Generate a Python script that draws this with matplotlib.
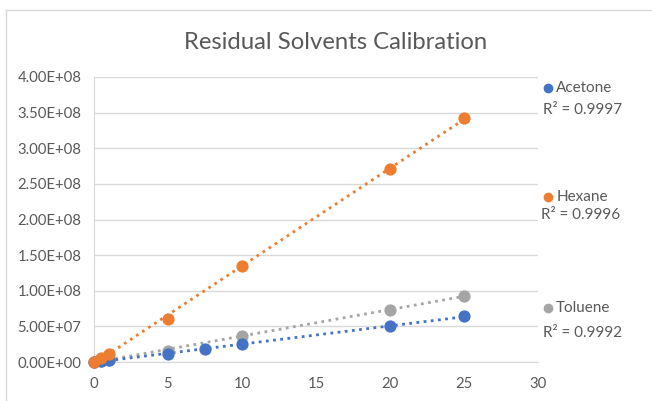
import numpy as np
import matplotlib
matplotlib.use("Agg")
import matplotlib.pyplot as plt
from matplotlib.lines import Line2D

# Data
acetone_x = [0, 0.5, 1, 5, 7.5, 10, 20, 25]
acetone_y = [0, 1.5e6, 3.0e6, 1.1e7, 1.8e7, 2.5e7, 5.1e7, 6.4e7]
hexane_x = [0, 0.5, 1, 5, 10, 20, 25]
hexane_y = [0, 6.0e6, 1.2e7, 6.1e7, 1.35e8, 2.71e8, 3.42e8]
toluene_x = [0, 0.5, 1, 5, 10, 20, 25]
toluene_y = [0, 1.8e6, 3.5e6, 1.6e7, 3.7e7, 7.3e7, 9.3e7]
series = [("Acetone", acetone_x, acetone_y, "#4472C4", "R² = 0.9997"),
          ("Hexane", hexane_x, hexane_y, "#ED7D31", "R² = 0.9996"),
          ("Toluene", toluene_x, toluene_y, "#A5A5A5", "R² = 0.9992")]
yticks = [0, 5e7, 1e8, 1.5e8, 2e8, 2.5e8, 3e8, 3.5e8, 4e8]
ytick_labels = ["0.00E+00", "5.00E+07", "1.00E+08", "1.50E+08", "2.00E+08",
                "2.50E+08", "3.00E+08", "3.50E+08", "4.00E+08"]
xticks = [0, 5, 10, 15, 20, 25, 30]

plt.rcParams['font.family'] = ['Lato', 'DejaVu Sans']
txt = "#595959"

fig = plt.figure(figsize=(6.52, 4.01), dpi=100)
ax = fig.add_axes([0.144, 0.097, 0.681, 0.711])

for name, xs, ys, col, r2 in [series[2], series[0], series[1]]:
    xs = np.array(xs); ys = np.array(ys)
    m, b = np.polyfit(xs, ys, 1)
    xl = np.array([0, xs.max()])
    ax.plot(xl, m * xl + b, linestyle=(0, (1, 1.6)), color=col, lw=2.0, zorder=2)
    ax.plot(xs, ys, 'o', color=col, ms=7.8, mec=col, zorder=3, clip_on=False)

ax.set_xlim(0, 30)
ax.set_ylim(0, 4e8)
ax.set_xticks(xticks)
ax.set_xticklabels([str(t) for t in xticks])
ax.set_yticks(yticks)
ax.set_yticklabels(ytick_labels)
ax.tick_params(axis='both', length=0, labelsize=10.7, colors=txt)
ax.tick_params(axis='y', pad=9)
ax.tick_params(axis='x', pad=11)
ax.grid(axis='y', color='#D9D9D9', lw=1)
ax.set_axisbelow(True)
for s in ['top', 'right']:
    ax.spines[s].set_visible(False)
ax.spines['left'].set_color('#D9D9D9')
ax.spines['bottom'].set_color('#D9D9D9')

fig.text(0.515, 0.895, "Residual Solvents Calibration", ha='center', va='center',
         fontsize=17.2, color=txt)

legend_pos = [(0.840, 0.781, 0.833, 0.726), (0.840, 0.509, 0.830, 0.463), (0.840, 0.232, 0.833, 0.169)]
for (name, xs, ys, col, r2), (lx, ly, rx, ry) in zip(series, legend_pos):
    fig.add_artist(Line2D([lx], [ly], marker='o', color=col, ms=6, lw=0,
                          transform=fig.transFigure))
    fig.text(lx + 0.013, ly, name, ha='left', va='center', fontsize=11, color=txt)
    fig.text(rx, ry, r2, ha='left', va='center', fontsize=11, color=txt)

fig.add_artist(Line2D([0.009, 1.0], [0.975, 0.975], color='#D9D9D9', lw=1,
                      transform=fig.transFigure))
fig.add_artist(Line2D([0.009, 0.009], [0.0, 0.975], color='#D9D9D9', lw=1,
                      transform=fig.transFigure))

fig.savefig("out.png", dpi=100)
